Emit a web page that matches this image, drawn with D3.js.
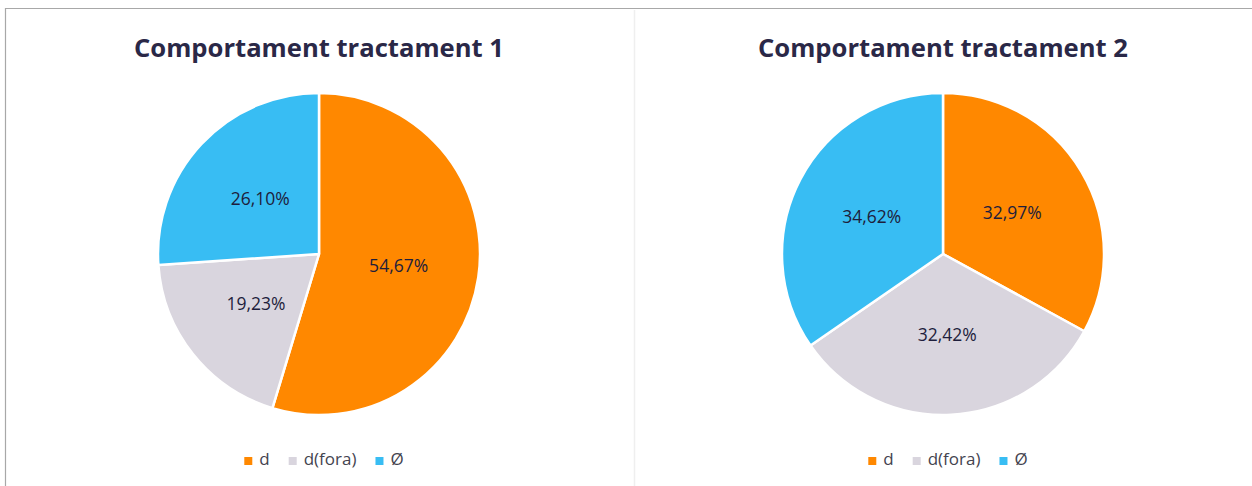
<!DOCTYPE html>
<html>
<head>
<meta charset="utf-8">
<script src="https://cdn.jsdelivr.net/npm/d3@7"></script>
<style>
  html, body { margin: 0; padding: 0; background: #fff; }
  svg { display: block; }
</style>
</head>
<body>
<svg id="chart" width="1252" height="486"></svg>
<script>
// Categories and shares (%) for each treatment
const categories = ["d", "d(fora)", "Ø"];
const titles = ["Comportament tractament 1", "Comportament tractament 2"];
const valuesT1 = [54.67, 19.23, 26.10];
const valuesT2 = [32.97, 32.42, 34.62];
const colors = ["#FF8800", "#D9D5DE", "#38BDF3"];

const svg = d3.select("#chart");
const W = 1252, H = 486;

// Frame lines
svg.append("line").attr("x1", 5.5).attr("x2", W).attr("y1", 8.5).attr("y2", 8.5)
  .attr("stroke", "#a8a8a8").attr("stroke-width", 1.2);
svg.append("line").attr("x1", 5.5).attr("x2", 5.5).attr("y1", 8).attr("y2", H)
  .attr("stroke", "#a8a8a8").attr("stroke-width", 1.2);
svg.append("line").attr("x1", 634.5).attr("x2", 634.5).attr("y1", 10).attr("y2", H)
  .attr("stroke", "#efefef").attr("stroke-width", 1.5);

const color = d3.scaleOrdinal().domain(categories).range(colors);
const fmt = v => d3.format(".2f")(v).replace(".", ",") + "%";

const panels = [
  { title: titles[0], values: valuesT1, cx: 319 },
  { title: titles[1], values: valuesT2, cx: 943 }
];

const radius = 161;
const cy = 254;

const pie = d3.pie().sort(null).value(d => d.value);
const arc = d3.arc().innerRadius(0).outerRadius(radius);
const labelArc = d3.arc().innerRadius(radius * 0.5).outerRadius(radius * 0.5);

panels.forEach(p => {
  const data = categories.map((c, i) => ({ cat: c, value: p.values[i] }));
  const g = svg.append("g");

  // Title
  const t = g.append("text")
    .attr("x", p.cx).attr("y", 57)
    .attr("text-anchor", "middle")
    .attr("font-family", "'Open Sans', sans-serif")
    .attr("font-weight", 700)
    .attr("font-size", 24)
    .attr("fill", "#2A2847")
    .text(p.title);
  const tw = t.node().getComputedTextLength();
  t.attr("font-size", 24 * 370 / tw);

  // Slices
  const pg = g.append("g").attr("transform", `translate(${p.cx},${cy})`);
  const arcs = pie(data);
  pg.selectAll("path").data(arcs).join("path")
    .attr("d", arc)
    .attr("fill", d => color(d.data.cat))
    .attr("stroke", "#fff")
    .attr("stroke-width", 2.5)
    .attr("stroke-linejoin", "round");

  pg.selectAll("text").data(arcs).join("text")
    .attr("transform", d => `translate(${labelArc.centroid(d)})`)
    .attr("text-anchor", "middle")
    .attr("dy", "0.35em")
    .attr("font-family", "'Open Sans', sans-serif")
    .attr("font-size", 17.5)
    .attr("fill", "#1E1E3C")
    .text(d => fmt(d.data.value));

  // Legend, centred under the pie
  const lg = g.append("g");
  const items = lg.selectAll("g").data(categories).join("g");
  items.append("rect").attr("width", 8).attr("height", 8).attr("y", -8)
    .attr("fill", d => color(d));
  items.append("text").attr("x", 15).attr("y", 0)
    .attr("font-family", "'Open Sans', sans-serif")
    .attr("font-size", 17)
    .attr("fill", "#44444F")
    .text(d => d);
  let x = 0;
  items.each(function () {
    const w = this.getBBox().width;
    d3.select(this).attr("transform", `translate(${x},0)`);
    x += w + 19;
  });
  const total = x - 19;
  lg.attr("transform", `translate(${p.cx - total / 2 + 5},${465})`);
});
</script>
</body>
</html>
